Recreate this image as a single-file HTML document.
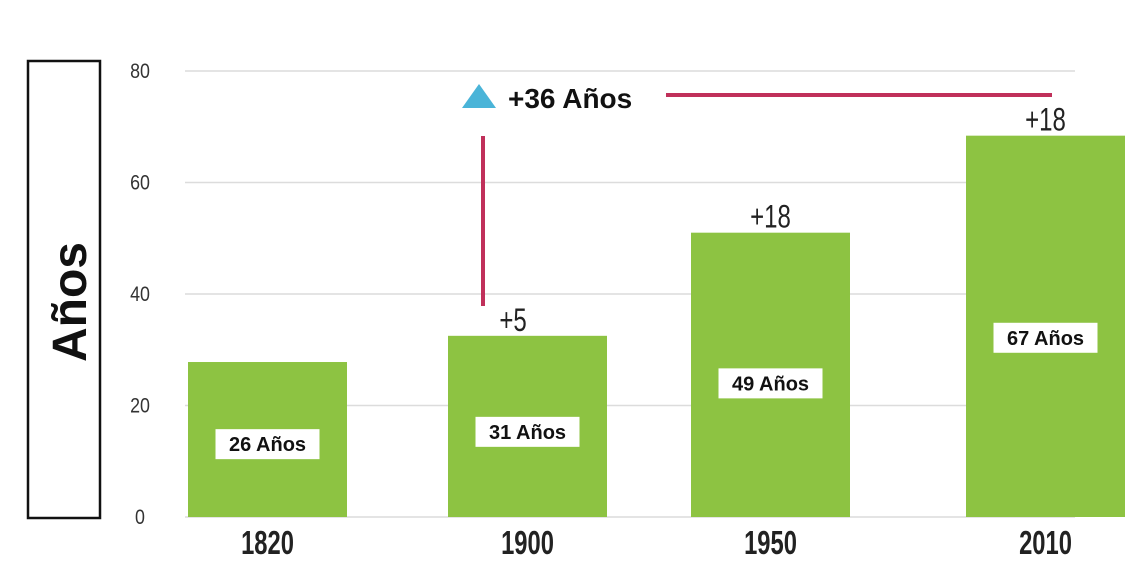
<!DOCTYPE html>
<html><head><meta charset="utf-8"><style>
html,body{margin:0;padding:0;background:#fff;}
svg{display:block;font-family:"Liberation Sans",sans-serif;}
</style></head><body>
<svg id="chart" width="1139" height="569" viewBox="0 0 1139 569">
<rect x="28" y="61" width="72" height="457" fill="none" stroke="#111" stroke-width="2.5"/>
<text x="0" y="0" transform="translate(86,302) rotate(-90)" text-anchor="middle" font-size="48" font-weight="bold" fill="#111">Años</text>
<g id="grid"></g><g id="bars"></g><g id="labels"></g>
<polygon points="462,108 479,84 496,108" fill="#4ab4d8"/>
<text x="508" y="108" font-size="28" font-weight="bold" fill="#111">+36 Años</text>
<line x1="666" y1="95" x2="1052" y2="95" stroke="#c0305a" stroke-width="4"/>
<line x1="483" y1="136" x2="483" y2="306" stroke="#c0305a" stroke-width="4"/>
</svg>
<script>
const categories=["1820","1900","1950","2010"];
const values=[27.8,32.5,51,68.4];
const valueLabels=["26 Años","31 Años","49 Años","67 Años"];
const deltaLabels=["","+5","+18","+18"];
const yTicks=[0,20,40,60,80];
const NS="http://www.w3.org/2000/svg";
const y0=517,y80=71;
function yScale(v){return y0-(y0-y80)*v/80;}
const barX=[188,448,691,966],barW=159;
function xCenter(i){return barX[i]+barW/2;}
function mk(t,a,p){const e=document.createElementNS(NS,t);for(const k in a)e.setAttribute(k,a[k]);p.appendChild(e);return e;}
const grid=document.getElementById('grid'),bars=document.getElementById('bars'),labels=document.getElementById('labels');
yTicks.forEach(t=>{
 const l=mk('line',{x1:185,x2:1075,y1:yScale(t),y2:yScale(t),stroke:'#dcdcdc','stroke-width':1.5},grid);
 
 
 const tx=mk('text',{x:0,y:0,transform:`translate(140,${yScale(t)+7}) scale(0.85,1)`,'text-anchor':'middle','font-size':21,fill:'#333'},grid);
 tx.textContent=t;
 
 
});
categories.forEach((c,i)=>{
 const top=yScale(values[i]);
 const r=mk('rect',{x:barX[i],y:top,width:barW,height:y0-top,fill:'#8dc342'},bars);
 
 
 const cx=xCenter(i);
 const tc=mk('text',{x:0,y:0,transform:`translate(${cx},554) scale(0.72,1)`,'text-anchor':'middle','font-size':33,'font-weight':'bold',fill:'#222'},labels);
 tc.textContent=c;
 
 
 const midY=top+(y0-top)*0.53;
 const bw=104,bh=30;
 const bx=mk('rect',{x:cx-bw/2,y:midY-bh/2,width:bw,height:bh,fill:'#fff'},labels);
 
 
 const vt=mk('text',{x:cx,y:midY+7,'text-anchor':'middle','font-size':20,'font-weight':'bold',fill:'#111'},labels);
 vt.textContent=valueLabels[i];
 
 
 if(deltaLabels[i]){
  const dt=mk('text',{x:0,y:0,transform:`translate(${i==1?513:cx},${top-5}) scale(0.75,1)`,'text-anchor':'middle','font-size':32,fill:'#222'},labels);
  dt.textContent=deltaLabels[i];
  
  
 }
});
</script>
</body></html>
